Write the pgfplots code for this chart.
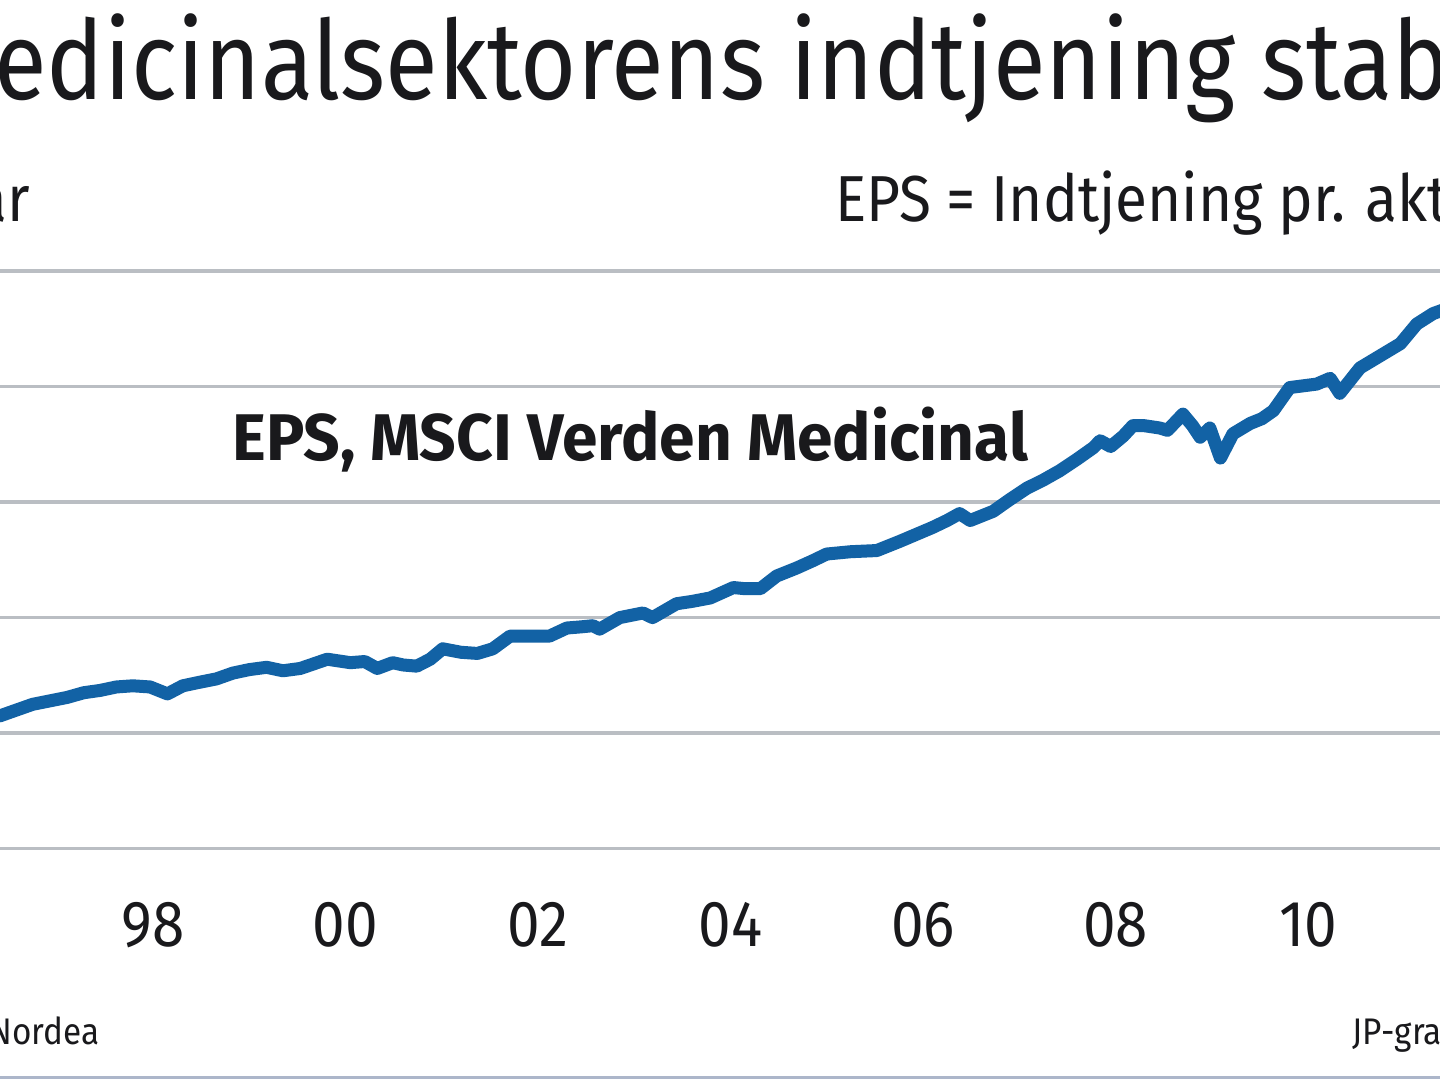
\documentclass[border=0pt]{standalone}
\usepackage{pgfplots}
\pgfplotsset{compat=1.18}
\usepackage{fontspec}
\setmainfont{Fira Sans}[FakeStretch=0.9]
\newfontfamily\titlefont{Fira Sans}[FakeStretch=0.875]
\newfontfamily\labelfont{Fira Sans}[FakeStretch=0.97]
\definecolor{epsblue}{RGB}{18,98,165}
\definecolor{gridgray}{RGB}{186,190,195}
\definecolor{borderblue}{RGB}{172,182,202}
\definecolor{txt}{RGB}{25,25,28}

\pgfplotstableread{
x y
1996.41 1.15
1996.58 1.20
1996.75 1.25
1996.93 1.28
1997.11 1.31
1997.28 1.35
1997.45 1.37
1997.62 1.40
1997.79 1.41
1997.97 1.40
1998.15 1.34
1998.31 1.41
1998.48 1.44
1998.66 1.47
1998.83 1.52
1999.00 1.55
1999.18 1.57
1999.35 1.54
1999.53 1.56
1999.67 1.60
1999.81 1.64
2000.05 1.61
2000.20 1.62
2000.33 1.56
2000.49 1.61
2000.60 1.59
2000.74 1.58
2000.88 1.64
2001.01 1.73
2001.20 1.70
2001.37 1.69
2001.53 1.73
2001.71 1.84
2001.90 1.84
2002.12 1.84
2002.30 1.91
2002.45 1.92
2002.57 1.93
2002.64 1.90
2002.85 2.00
2003.09 2.04
2003.19 2.00
2003.44 2.12
2003.60 2.14
2003.79 2.17
2004.03 2.26
2004.15 2.25
2004.31 2.25
2004.48 2.36
2004.69 2.43
2004.85 2.49
2005.00 2.55
2005.25 2.57
2005.52 2.58
2005.76 2.66
2005.93 2.72
2006.10 2.78
2006.25 2.84
2006.38 2.90
2006.49 2.84
2006.73 2.92
2006.90 3.02
2007.08 3.12
2007.25 3.19
2007.42 3.27
2007.60 3.37
2007.77 3.47
2007.84 3.53
2007.95 3.48
2008.08 3.57
2008.18 3.66
2008.30 3.66
2008.46 3.64
2008.54 3.62
2008.70 3.76
2008.80 3.66
2008.88 3.56
2008.98 3.64
2009.09 3.38
2009.22 3.59
2009.40 3.68
2009.52 3.72
2009.64 3.79
2009.81 3.99
2010.09 4.02
2010.23 4.07
2010.33 3.94
2010.54 4.16
2010.78 4.28
2010.96 4.37
2011.13 4.54
2011.30 4.63
2011.40 4.66
}\epsdata

\begin{document}
\begin{tikzpicture}[x=0.5pt,y=0.5pt]
\path[use as bounding box, clip] (0,0) rectangle (1440,1080);
\fill[white] (0,0) rectangle (1440,1080);
\begin{axis}[
  at={(0,200)}, anchor=south west,
  scale only axis, width=720pt, height=289pt,
  xmin=1996.4104, xmax=2011.3714, ymin=0, ymax=5,
  axis line style={draw=none}, major tick length=0pt,
  ytick={0,1,2,3,4,5}, yticklabels={},
  ymajorgrids, grid style={gridgray, line width=1.7pt},
  xtick={1998,2000,2002,2004,2006,2008,2010},
  xticklabels={98,00,02,04,06,08,10},
  xticklabel style={anchor=center, yshift=-38pt, text=txt, font=\fontsize{32.5}{32.5}\selectfont},
]
\addplot[epsblue, line width=6.5pt, line join=round, line cap=round] table[x=x,y=y] {\epsdata};
\end{axis}
\node[anchor=base west, inner sep=0pt, text=txt, font=\titlefont\fontsize{55}{55}\selectfont] at (-6,980) {\llap{M}edicinalsektorens indtjening stabil};
\node[anchor=base east, inner sep=0pt, text=txt, font=\fontsize{32.5}{32.5}\selectfont] at (30,858) {Dollar i alt, mia. dollar};
\node[anchor=base west, inner sep=0pt, text=txt, font=\fontsize{32.5}{32.5}\selectfont] at (835,858) {EPS = Indtjening pr. aktie};
\node[anchor=base west, inner sep=0pt, text=txt, font=\labelfont\bfseries\fontsize{33}{33}\selectfont] at (232,619) {EPS, MSCI Verden Medicinal};
\node[anchor=base east, inner sep=0pt, text=txt, font=\fontsize{18.5}{18.5}\selectfont] at (100,35) {Kilde: Nordea};
\node[anchor=base west, inner sep=0pt, text=txt, font=\fontsize{18.5}{18.5}\selectfont] at (1352,35) {JP-grafik};
\draw[borderblue, line width=1.5pt] (0,2.5) -- (1440,2.5);
\end{tikzpicture}
\end{document}
